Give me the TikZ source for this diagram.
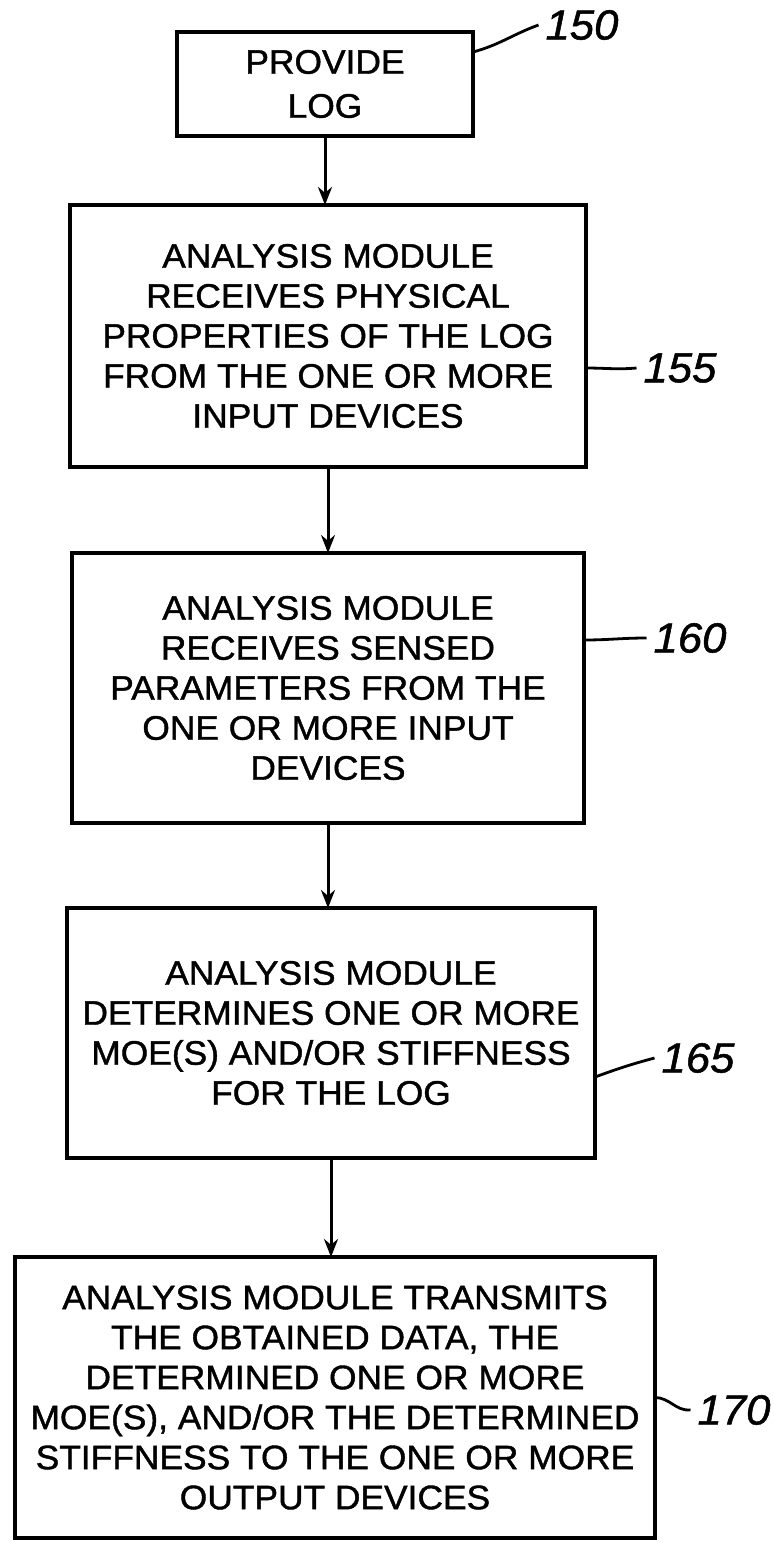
\documentclass[tikz,border=0pt]{standalone}
\usepackage{fontspec}
\setmainfont{Liberation Sans}[FakeStretch=1.04, FakeBold=1.2]
\usetikzlibrary{arrows.meta}
\usetikzlibrary{positioning}

\begin{document}
\begin{tikzpicture}[
            x=0.5pt, y=-0.5pt,
            >={Stealth[length=9pt,width=7pt]},
            stepbox/.style={rectangle, align=center, draw=black, line width=2pt, inner sep=0pt, outer sep=0pt, font=\fontsize{17}{20}\selectfont},
            reflabel/.style={font=\fontsize{21}{21}\selectfont\itshape},
            leader/.style={line width=1.4pt},
        ]
        \useasboundingbox (0,0) rectangle (774,1543);

        % Nodes.
        \node[stepbox, minimum width=148pt, minimum height=52pt]  (provide_log)                                                   at (325,84) {PROVIDE\\[2pt]LOG};
        \node[stepbox, minimum width=258pt, minimum height=131pt] (receive_props)  [below=34.5pt of provide_log, xshift=1.5pt]    {ANALYSIS MODULE\\RECEIVES PHYSICAL\\PROPERTIES OF THE LOG\\FROM THE ONE OR MORE\\INPUT DEVICES};
        \node[stepbox, minimum width=256pt, minimum height=135pt] (receive_params) [below=43pt of receive_props]                 {ANALYSIS MODULE\\RECEIVES SENSED\\PARAMETERS FROM THE\\ONE OR MORE INPUT\\DEVICES};
        \node[stepbox, minimum width=264pt, minimum height=125pt] (determine_moe)  [below=42.5pt of receive_params, xshift=1.5pt] {ANALYSIS MODULE\\DETERMINES ONE OR MORE\\MOE(S) AND/OR STIFFNESS\\FOR THE LOG};
        \node[stepbox, minimum width=320pt, minimum height=140.5pt] (transmit_data) [below=49.5pt of determine_moe, xshift=2pt]   {ANALYSIS MODULE TRANSMITS\\THE OBTAINED DATA, THE\\DETERMINED ONE OR MORE\\MOE(S), AND/OR THE DETERMINED\\STIFFNESS TO THE ONE OR MORE\\OUTPUT DEVICES};

        % Reference numbers.
        \node[reflabel] (num150) at (582,25)   {150};
        \node[reflabel] (num155) at (680,368)  {155};
        \node[reflabel] (num160) at (690,638)  {160};
        \node[reflabel] (num165) at (698,1058) {165};
        \node[reflabel] (num170) at (734,1410) {170};

        % Lines.
        \draw[->, line width=1.5pt] (provide_log.south)    -- (provide_log.south |- receive_props.north);
        \draw[->, line width=1.5pt] (receive_props.south)  -- (receive_props.south |- receive_params.north);
        \draw[->, line width=1.5pt] (receive_params.south) -- (receive_params.south |- determine_moe.north);
        \draw[->, line width=1.5pt] (determine_moe.south)  -- (determine_moe.south |- transmit_data.north);

        % Leaders.
        \draw[leader] ([yshift=-10pt]provide_log.north east) to[out=15, in=200]  (num150.west);
        \draw[leader] ([yshift=-16pt]receive_props.east)     to[out=0, in=185]   (num155.west);
        \draw[leader] ([yshift=24pt]receive_params.east)     to[out=0, in=180]   (num160.west);
        \draw[leader] ([yshift=-22pt]determine_moe.east)     to[out=20, in=195]  (num165.west);
        \draw[leader] ([yshift=0pt]transmit_data.east)       to[out=0, in=185]   (num170.west);
    \end{tikzpicture}
\end{document}
